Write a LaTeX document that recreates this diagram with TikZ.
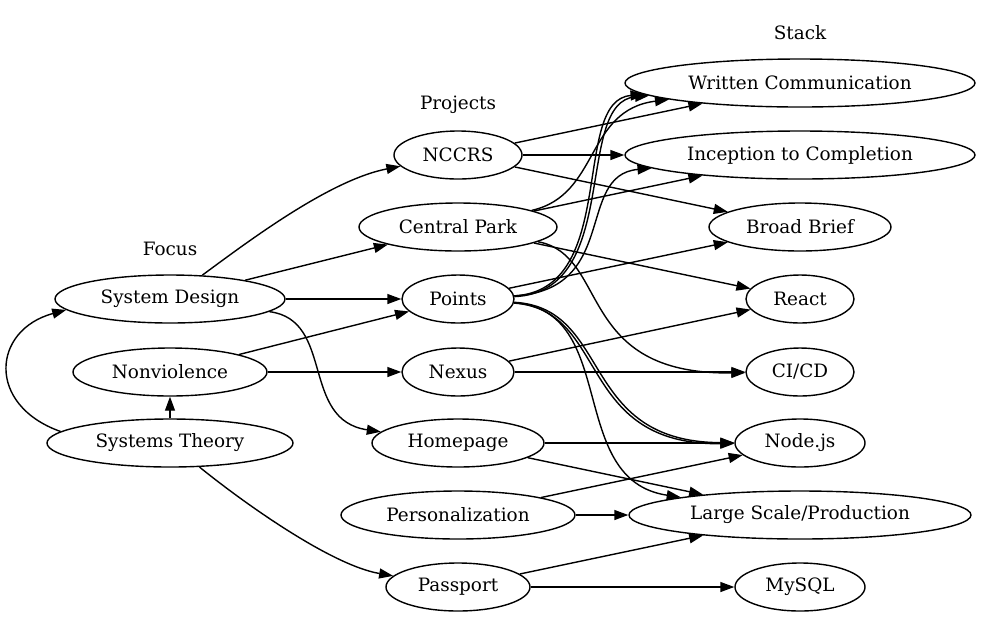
\documentclass[tikz,border=0pt]{standalone}
\usepackage{fontspec}
\setmainfont{DejaVu Serif}
\usetikzlibrary{shapes.geometric, arrows.meta}

\begin{document}
\begin{tikzpicture}[
    x=0.5pt, y=-0.5pt,
    font=\fontsize{9.2}{11}\selectfont,
    % Node styles
    topic/.style={ellipse, draw, line width=0.7pt, inner sep=0pt, minimum height=24pt},
    head/.style={inner sep=1pt},
    link/.style={-{Triangle[length=7pt, width=5pt]}, line width=0.7pt},
]
\useasboundingbox (0,0) rectangle (1002,639);

% ============================================================================
% COLUMN HEADINGS
% ============================================================================
\node[head] (hstack) at (800, 33) {Stack};
\node[head] (hproj) at (458, 105) {Projects};
\node[head] (hfocus) at (170, 249) {Focus};

% Stack
\node[topic, minimum width=175pt] (wc) at (800, 83) {Written Communication};
\node[topic, minimum width=175pt] (itc) at (800, 155) {Inception to Completion};
\node[topic, minimum width=91pt] (bb) at (800, 227) {Broad Brief};
\node[topic, minimum width=54pt] (react) at (800, 299) {React};
\node[topic, minimum width=54pt] (cicd) at (800, 372) {CI/CD};
\node[topic, minimum width=65pt] (nodejs) at (800, 443) {Node.js};
\node[topic, minimum width=171pt] (lsp) at (800, 515) {Large Scale/Production};
\node[topic, minimum width=65pt] (mysql) at (800, 587) {MySQL};

% Projects
\node[topic, minimum width=64pt] (nccrs) at (458, 155) {NCCRS};
\node[topic, minimum width=99pt] (cpark) at (458, 227) {Central Park};
\node[topic, minimum width=56pt] (points) at (458, 299) {Points};
\node[topic, minimum width=56pt] (nexus) at (458, 372) {Nexus};
\node[topic, minimum width=86pt] (home) at (458, 443) {Homepage};
\node[topic, minimum width=117pt] (pers) at (458, 515) {Personalization};
\node[topic, minimum width=72pt] (pass) at (458, 587) {Passport};

% Focus
\node[topic, minimum width=115pt] (sdes) at (170, 299) {System Design};
\node[topic, minimum width=97pt] (nonv) at (170, 372) {Nonviolence};
\node[topic, minimum width=123pt] (stheo) at (170, 443) {Systems Theory};

% ============================================================================
% EDGES
% ============================================================================
% Focus
\draw[link] (stheo.174) .. controls (-14,405) and (-8,330) .. (sdes.186);
\draw[link] (stheo) -- (nonv);
\draw[link] (stheo) .. controls (240,500) and (330,565) .. (pass);
\draw[link] (sdes) .. controls (250,240) and (330,180) .. (nccrs);
\draw[link] (sdes) -- (cpark);
\draw[link] (sdes) -- (points);
\draw[link] (sdes) .. controls (335,320) and (300,420) .. (home);
\draw[link] (nonv) -- (points);
\draw[link] (nonv) -- (nexus);

% Projects
\draw[link] (nccrs) -- (wc);
\draw[link] (nccrs) -- (itc);
\draw[link] (nccrs) -- (bb);
\draw[link] (cpark) .. controls (600,195) and (585,110) .. (wc);
\draw[link] (cpark) -- (itc);
\draw[link] (cpark) -- (react);
\draw[link] (cpark) .. controls (610,255) and (575,375) .. (cicd);
\draw[link] (points) .. controls (620,290) and (570,100) .. (wc);
\draw[link] (points) .. controls (623,292) and (573,102) .. (wc);
\draw[link] (points) .. controls (620,290) and (575,175) .. (itc);
\draw[link] (points) -- (bb);
\draw[link] (points) .. controls (610,310) and (575,445) .. (nodejs);
\draw[link] (points) .. controls (613,308) and (578,442) .. (nodejs);
\draw[link] (points) .. controls (620,310) and (565,480) .. (lsp);
\draw[link] (nexus) -- (react);
\draw[link] (nexus) -- (cicd);
\draw[link] (home) -- (nodejs);
\draw[link] (home) -- (lsp);
\draw[link] (pers) -- (nodejs);
\draw[link] (pers) -- (lsp);
\draw[link] (pass) -- (lsp);
\draw[link] (pass) -- (mysql);

\end{tikzpicture}
\end{document}
